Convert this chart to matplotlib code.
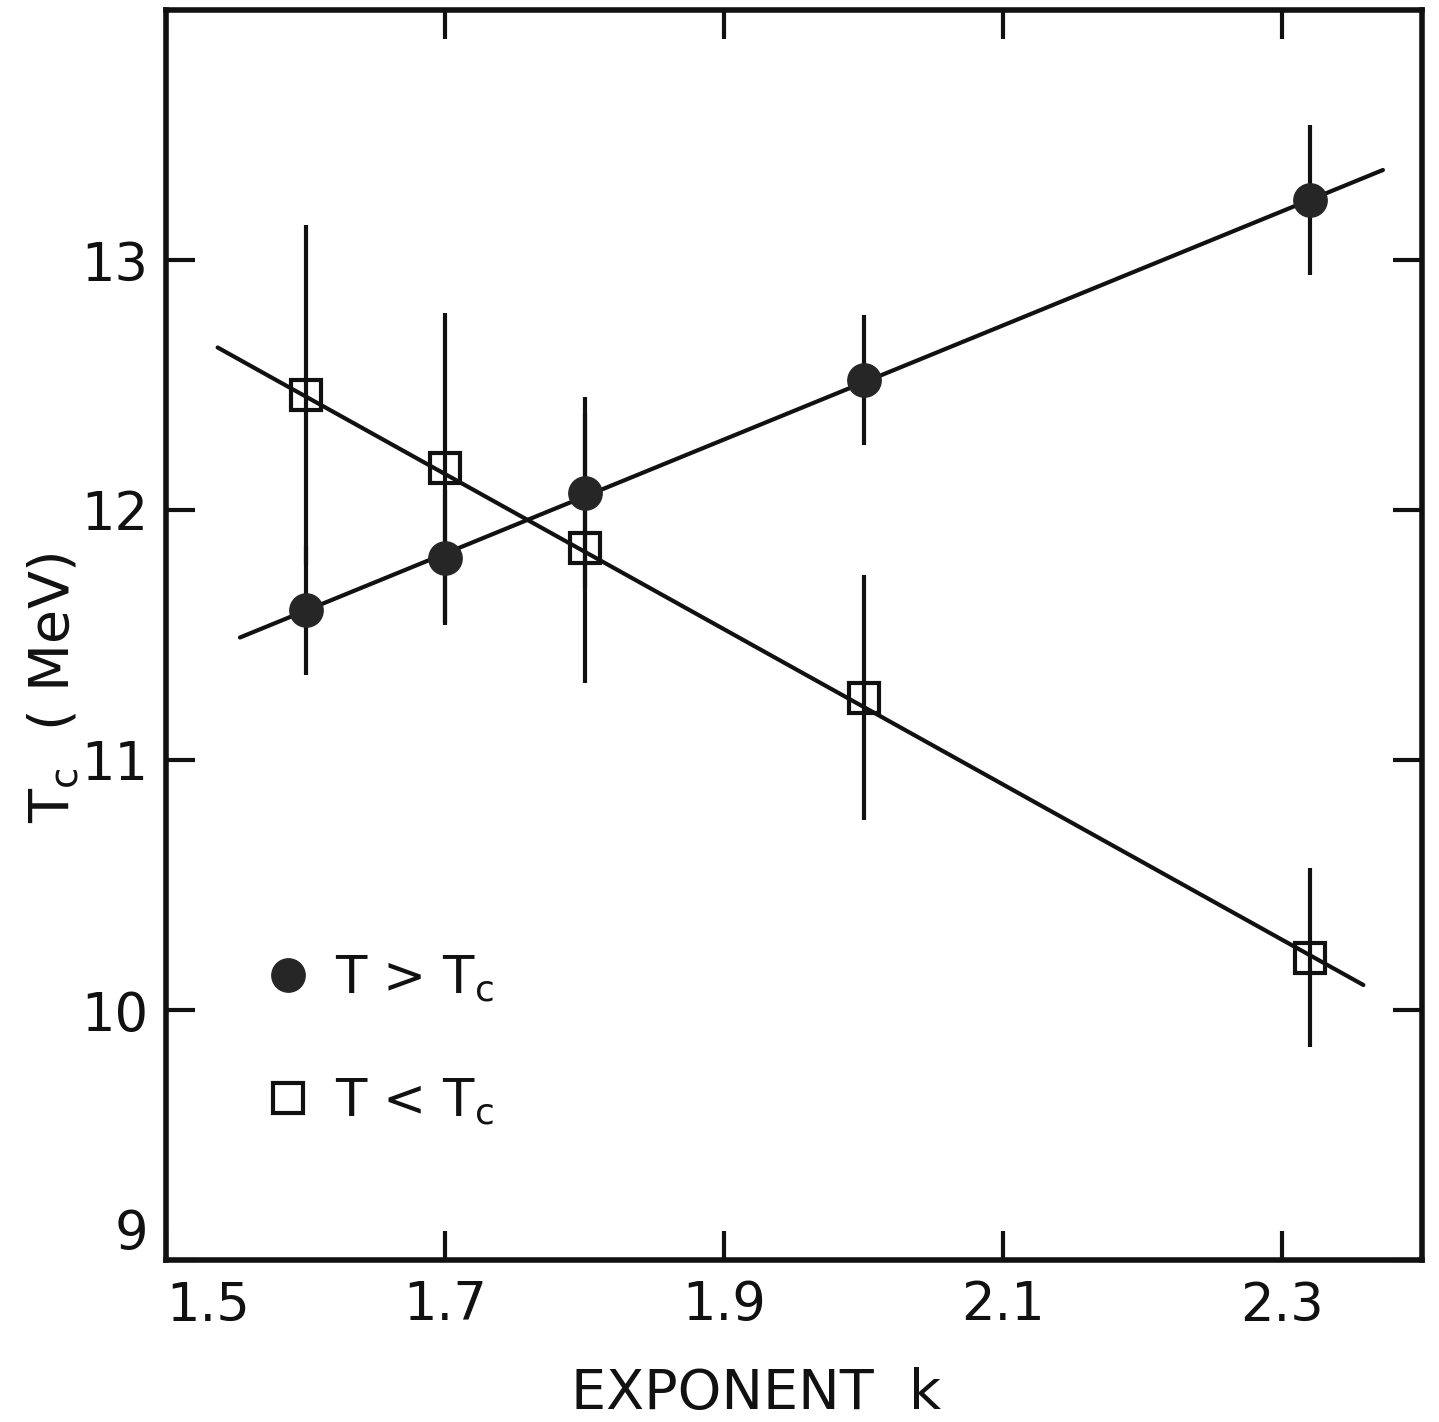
import matplotlib
matplotlib.use("Agg")
import matplotlib.pyplot as plt
from matplotlib.lines import Line2D

# ---- data ----
k_above = [1.60, 1.70, 1.80, 2.00, 2.32]
tc_above = [11.60, 11.81, 12.07, 12.52, 13.24]
err_above = [0.26, 0.27, 0.38, 0.26, 0.30]

k_below = [1.60, 1.70, 1.80, 2.00, 2.32]
tc_below = [12.46, 12.17, 11.85, 11.25, 10.21]
err_below = [0.68, 0.62, 0.54, 0.49, 0.36]

fit_above_k = [1.553, 2.372]
fit_above_tc = [11.49, 13.36]
fit_below_k = [1.537, 2.358]
fit_below_tc = [12.65, 10.10]

xticks = [1.5, 1.7, 1.9, 2.1, 2.3]
xticklabels = ["1.5", "1.7", "1.9", "2.1", "2.3"]
yticks = [9, 10, 11, 12, 13]
yticklabels = ["9", "10", "11", "12", "13"]

legend_labels = [r"T > T$_{\mathregular{c}}$", r"T < T$_{\mathregular{c}}$"]

plt.rcParams['font.family'] = ['DejaVu Sans']
plt.rcParams['mathtext.default'] = 'regular'

fig = plt.figure(figsize=(14.39, 14.22), dpi=100)
ax = fig.add_axes([166/1439, 1 - 1260/1422, (1422-166)/1439, (1260-10)/1422])

ink = '#111111'
lw = 3.0

ax.plot(fit_above_k, fit_above_tc, color=ink, lw=lw, solid_capstyle='round', zorder=2)
ax.plot(fit_below_k, fit_below_tc, color=ink, lw=lw, solid_capstyle='round', zorder=2)

ax.errorbar(k_below, tc_below, yerr=err_below, fmt='none', ecolor=ink,
            elinewidth=lw, capsize=0, zorder=2)
ax.errorbar(k_above, tc_above, yerr=err_above, fmt='none', ecolor=ink,
            elinewidth=lw, capsize=0, zorder=2)

ax.plot(k_below, tc_below, ls='none', marker='s', ms=21, mfc='none',
        mec=ink, mew=3.0, zorder=3)
ax.plot(k_above, tc_above, ls='none', marker='o', ms=24, mfc='#262626',
        mec='#262626', mew=1, zorder=3)

ax.set_xlim(1.5, 2.4)
ax.set_ylim(9, 14)
ax.set_xticks(xticks)
ax.set_xticklabels(xticklabels)
ax.set_yticks(yticks)
ax.set_yticklabels(yticklabels)

ax.tick_params(direction='in', length=21, width=3, color=ink,
               top=True, right=True, labelsize=38, labelcolor=ink)
ax.tick_params(axis='x', pad=14)
ax.tick_params(axis='y', pad=13)
for s in ax.spines.values():
    s.set_linewidth(4)
    s.set_color(ink)

# corner labels placed as in the reference (avoid the 9 / 1.5 clash)
ax.get_yticklabels()[0].set_verticalalignment('bottom')
ax.get_xticklabels()[0].set_horizontalalignment('left')

ax.set_xlabel("EXPONENT  k", fontsize=40, color=ink)
ax.xaxis.set_label_coords(0.47, -0.086)
ax.set_ylabel(r"T$_{\mathregular{c}}$  ( MeV)", fontsize=40, color=ink)
ax.yaxis.set_label_coords(-0.068, 0.458)

handles = [
    Line2D([], [], ls='none', marker='o', ms=24, mfc='#262626', mec='#262626'),
    Line2D([], [], ls='none', marker='s', ms=21, mfc='none', mec=ink, mew=3.0),
]
leg = ax.legend(handles, legend_labels, loc='center left',
                bbox_to_anchor=(0.081, 0.176), frameon=False, fontsize=37,
                handlelength=0.8, handletextpad=0.5, labelspacing=1.4,
                borderpad=0, borderaxespad=0)
for t in leg.get_texts():
    t.set_color(ink)

fig.savefig("out.png", dpi=100, facecolor='white')
